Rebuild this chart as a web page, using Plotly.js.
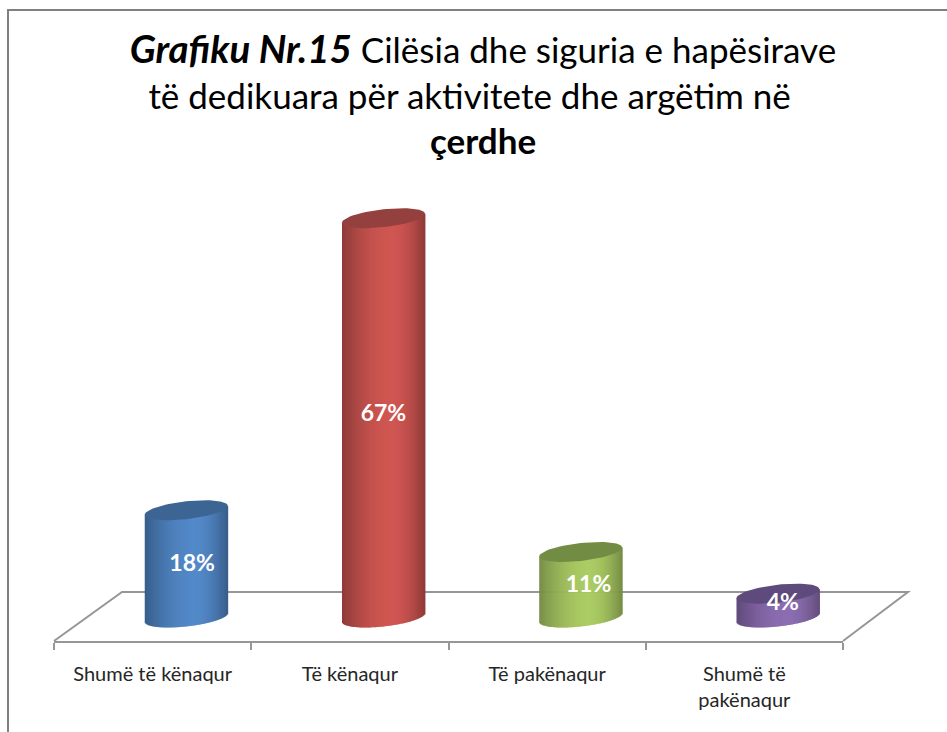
<!DOCTYPE html>
<html>
<head>
<meta charset="utf-8">
<script src="https://cdn.plot.ly/plotly-3.0.1.min.js"></script>
<style>html,body{margin:0;padding:0;background:#fff}#c{width:947px;height:732px}</style>
</head>
<body>
<div id="c"></div>
<script>
// --- data ---
const categories = ["Shumë të kënaqur", "Të kënaqur", "Të pakënaqur", "Shumë të<br>pakënaqur"];
const values = [18, 67, 11, 4];
const labels = ["18%", "67%", "11%", "4%"];
const sideColors = ["#5389C9", "#D05652", "#A8CA5E", "#8C6DB2"];
const capColors = ["#3D6594", "#94403E", "#738C44", "#5E4A7C"];
// --- cylinder look (in axis units) ---
const offsetX = 0.17, halfW = 0.21, minorY = 1.5, tiltY = 0.75, strips = 83;
const labelDx = [0.03, 0, 0.04, 0.025], labelDy = [-0.2, 0.5, -0.3, 0.2];

const W = 947, H = 732, L = 54, R = 843, T = 200, B = 641;
const ZERO = 617.5, SCALE = 5.96;
const yMin = (ZERO - B) / SCALE, yMax = (ZERO - T) / SCALE;
const px = v => (v - L) / (R - L), py = v => (B - v) / (B - T);

function shade(hex, f) {
  const n = parseInt(hex.slice(1), 16);
  const c = [n >> 16, (n >> 8) & 255, n & 255].map(v => Math.round(v * f));
  return `rgb(${c[0]},${c[1]},${c[2]})`;
}
function bright(u) {
  const peak = 0.2;
  const d = u < peak ? (peak - u) / (1 + peak) : (u - peak) / (1 - peak);
  return 1 - 0.32 * Math.pow(d, 1.8);
}

const traces = [];
const sw = 2 * halfW / strips;
for (let s = 0; s < strips; s++) {
  const u = -1 + (s + 0.5) * 2 / strips;
  const lower = -minorY * Math.sqrt(1 - u * u) + tiltY * u;
  traces.push({
    type: "bar", x: categories,
    y: values.map(v => v - lower + tiltY * u),
    base: values.map(() => lower),
    width: sw * 1.6,
    offset: offsetX - halfW + s * sw,
    marker: { color: sideColors.map(c => shade(c, bright(u))), line: { width: 0 } },
    hoverinfo: "skip", showlegend: false
  });
}
values.forEach((v, i) => {
  const xs = [], ys = [];
  for (let k = 0; k <= 72; k++) {
    const t = k / 72 * 2 * Math.PI;
    xs.push(i + offsetX + halfW * Math.cos(t));
    ys.push(v + minorY * Math.sin(t) + tiltY * Math.cos(t));
  }
  traces.push({
    type: "scatter", mode: "lines", x: xs, y: ys, xaxis: "x2", yaxis: "y",
    fill: "toself", fillcolor: capColors[i], line: { width: 0, color: capColors[i] },
    hoverinfo: "skip", showlegend: false
  });
});
traces.push({
  type: "scatter", mode: "text", xaxis: "x2", yaxis: "y",
  x: values.map((v, i) => i + offsetX + labelDx[i]),
  y: values.map((v, i) => v / 2 + labelDy[i]),
  text: labels, textposition: "middle center",
  textfont: { family: "Lato, sans-serif", size: 23, color: "#fff", weight: 700 },
  hoverinfo: "skip", showlegend: false
});

const gray = "#969696";
const floorPath = `M ${px(54)} ${py(641)} L ${px(122)} ${py(592)} L ${px(908)} ${py(592)} L ${px(843)} ${py(641)}`;
const layout = {
  width: W, height: H,
  margin: { l: L, r: W - R, t: T, b: H - B, pad: 0 },
  paper_bgcolor: "#fff", plot_bgcolor: "rgba(0,0,0,0)",
  barmode: "overlay", hovermode: false, showlegend: false,
  font: { family: "Lato, sans-serif", color: "#222" },
  title: {
    text: "<span style=\"font-size:38.5px\"><b><i>Grafiku Nr.15</i></b></span> Cilësia dhe siguria e hapësirave<br>të dedikuara për aktivitete dhe argëtim në\u00a0\u00a0\u00a0<br><b>çerdhe</b>",
    font: { family: "Lato, sans-serif", size: 35, color: "#000" },
    x: 483 / W, xanchor: "center", y: 1 - 63 / H, yanchor: "middle"
  },
  xaxis: {
    type: "category", categoryorder: "array", categoryarray: categories,
    range: [-0.5, 3.5], tickson: "boundaries", ticks: "outside", ticklen: 7, tickwidth: 2, tickcolor: gray,
    showline: true, linecolor: gray, linewidth: 2, showgrid: false, zeroline: false, ticklabelstandoff: 14,
    tickfont: { family: "Lato, sans-serif", size: 20, color: "#262626" }, tickangle: 0, fixedrange: true
  },
  xaxis2: { overlaying: "x", range: [-0.5, 3.5], visible: false, fixedrange: true },
  yaxis: { range: [yMin, yMax], visible: false, fixedrange: true },
  shapes: [
    { type: "path", xref: "paper", yref: "paper", path: floorPath, layer: "below", line: { color: gray, width: 2 } },
    { type: "line", xref: "paper", yref: "paper", x0: px(8), x1: px(8), y0: py(9), y1: py(732), line: { color: "#808080", width: 2 } },
    { type: "line", xref: "paper", yref: "paper", x0: px(7), x1: px(947), y0: py(10), y1: py(10), line: { color: "#808080", width: 2 } }
  ]
};
Plotly.newPlot("c", traces, layout, { displayModeBar: false, staticPlot: true });
</script>
</body>
</html>
